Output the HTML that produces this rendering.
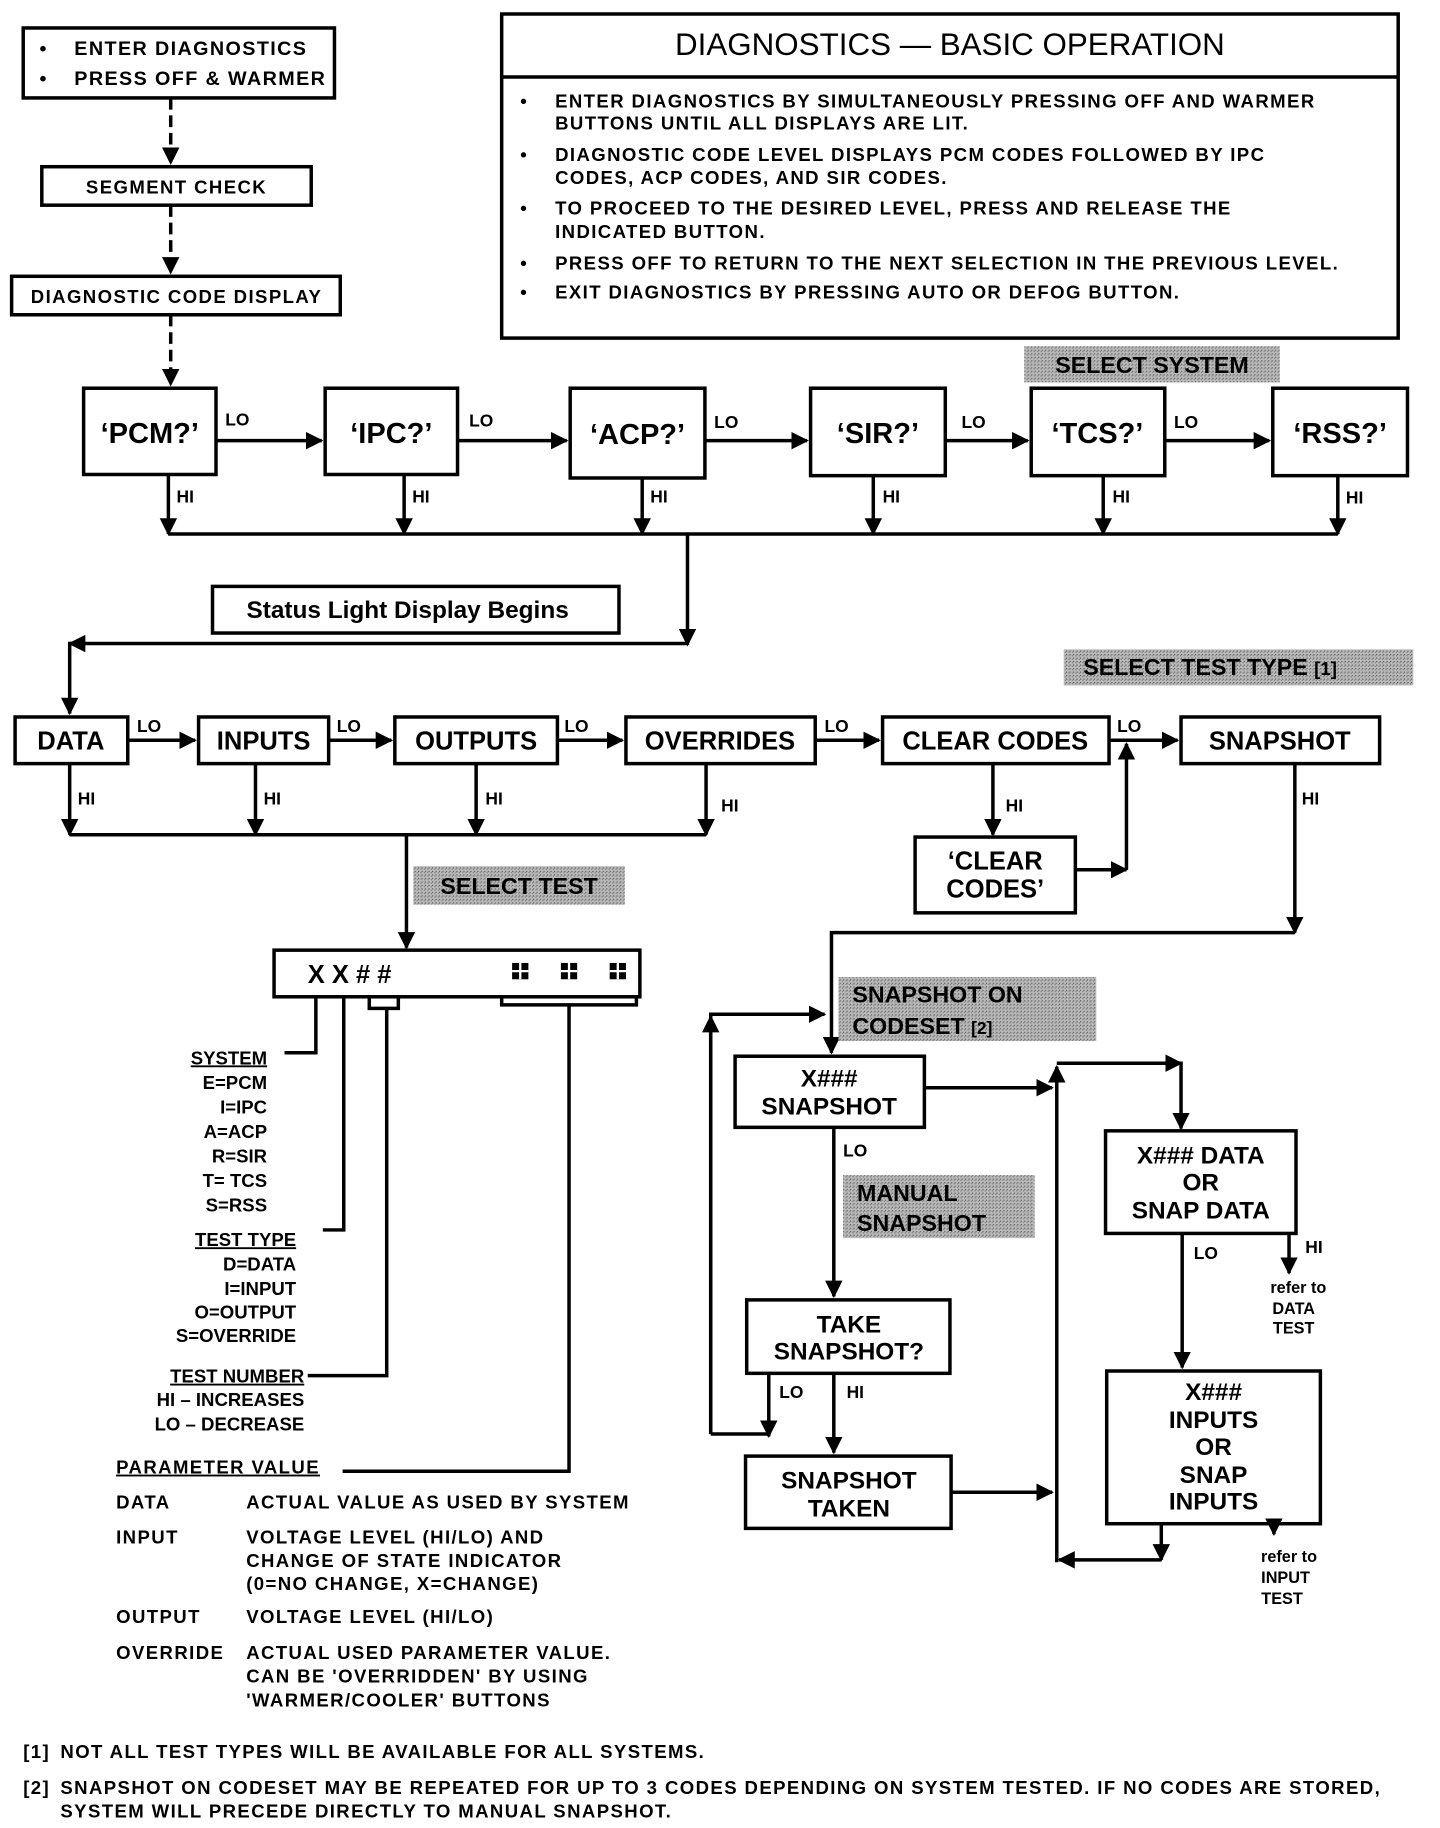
<!DOCTYPE html>
<html><head><meta charset="utf-8"><style>
html,body{margin:0;padding:0;background:#fff;}
svg{display:block;}
text{font-family:"Liberation Sans",Arial,sans-serif;font-weight:bold;fill:#000;}
.ls{letter-spacing:1.2px;}
</style></head><body>
<svg width="1440" height="1828" viewBox="0 0 1240 1568" preserveAspectRatio="none" xmlns="http://www.w3.org/2000/svg">
<defs>
<marker id="a" viewBox="0 0 10 10" refX="9" refY="5" markerWidth="5" markerHeight="5" orient="auto"><path d="M0,0L10,5L0,10z" fill="#000"/></marker>
<pattern id="g" width="3" height="3" patternUnits="userSpaceOnUse"><rect width="3" height="3" fill="#bbb"/><rect width="1" height="1" fill="#555"/><rect x="2" y="1" width="1" height="1" fill="#777"/></pattern>
</defs>
<g fill="none" stroke="#000" stroke-width="3">
<rect x="20" y="24" width="268" height="60"/>
<rect x="36" y="143" width="232" height="33"/>
<rect x="10" y="237" width="283" height="33"/>
<rect x="432" y="12" width="772" height="278"/>
<line x1="432" y1="66" x2="1204" y2="66"/>
<g stroke-dasharray="10,5"><line x1="147" y1="84" x2="147" y2="140" marker-end="url(#a)"/><line x1="147" y1="176" x2="147" y2="234" marker-end="url(#a)"/><line x1="147" y1="270" x2="147" y2="330" marker-end="url(#a)"/></g>
<rect x="72" y="333" width="114" height="74"/><rect x="280" y="333" width="114" height="74"/><rect x="491" y="333" width="116" height="77"/><rect x="698" y="333" width="116" height="75"/><rect x="888" y="333" width="115" height="75"/><rect x="1096" y="333" width="116" height="75"/>
<line x1="186" y1="378" x2="277" y2="378" marker-end="url(#a)"/><line x1="394" y1="378" x2="488" y2="378" marker-end="url(#a)"/><line x1="607" y1="378" x2="695" y2="378" marker-end="url(#a)"/><line x1="814" y1="378" x2="885" y2="378" marker-end="url(#a)"/><line x1="1003" y1="378" x2="1093" y2="378" marker-end="url(#a)"/>
<line x1="145" y1="407" x2="145" y2="458" marker-end="url(#a)"/><line x1="348" y1="407" x2="348" y2="458" marker-end="url(#a)"/><line x1="553" y1="410" x2="553" y2="458" marker-end="url(#a)"/><line x1="752" y1="408" x2="752" y2="458" marker-end="url(#a)"/><line x1="950" y1="408" x2="950" y2="458" marker-end="url(#a)"/><line x1="1152" y1="408" x2="1152" y2="458" marker-end="url(#a)"/>
<line x1="145" y1="458" x2="1152" y2="458"/>
<line x1="592" y1="458" x2="592" y2="553" marker-end="url(#a)"/>
<rect x="183" y="503" width="350" height="40"/>
<polyline points="592,552 60,552 60,612" marker-end="url(#a)"/>
<line x1="70" y1="552" x2="60" y2="552" marker-end="url(#a)"/>
<rect x="13" y="615" width="97" height="40"/><rect x="171" y="615" width="112" height="40"/><rect x="340" y="615" width="140" height="40"/><rect x="539" y="615" width="163" height="40"/><rect x="760" y="615" width="195" height="40"/><rect x="1017" y="615" width="171" height="40"/>
<line x1="110" y1="635" x2="168" y2="635" marker-end="url(#a)"/><line x1="283" y1="635" x2="337" y2="635" marker-end="url(#a)"/><line x1="480" y1="635" x2="536" y2="635" marker-end="url(#a)"/><line x1="702" y1="635" x2="757" y2="635" marker-end="url(#a)"/><line x1="955" y1="635" x2="1014" y2="635" marker-end="url(#a)"/>
<line x1="60" y1="655" x2="60" y2="716" marker-end="url(#a)"/><line x1="220" y1="655" x2="220" y2="716" marker-end="url(#a)"/><line x1="410" y1="655" x2="410" y2="716" marker-end="url(#a)"/><line x1="608" y1="655" x2="608" y2="716" marker-end="url(#a)"/>
<line x1="60" y1="716" x2="608" y2="716"/>
<line x1="350" y1="716" x2="350" y2="813" marker-end="url(#a)"/>
<line x1="855" y1="655" x2="855" y2="716" marker-end="url(#a)"/>
<rect x="788" y="718" width="138" height="65"/>
<line x1="926" y1="746" x2="970" y2="746" marker-end="url(#a)"/>
<line x1="970" y1="746" x2="970" y2="638" marker-end="url(#a)"/>
<line x1="1115" y1="655" x2="1115" y2="800" marker-end="url(#a)"/>
<polyline points="1115,800 716,800 716,903" marker-end="url(#a)"/>
<rect x="236" y="815" width="315" height="40"/>
<polyline points="318,855 318,865 343,865 343,855"/>
<polyline points="432,855 432,862 548,862 548,855"/>
<polyline points="272,855 272,903 245,903"/>
<polyline points="296,855 296,1055 278,1055"/>
<polyline points="333,865 333,1180 265,1180"/>
<polyline points="490,862 490,1262 295,1262"/>
<rect x="633" y="906" width="163" height="61"/>
<line x1="796" y1="933" x2="906" y2="933" marker-end="url(#a)"/>
<polyline points="612,1230 612,870 710,870" marker-end="url(#a)"/>
<line x1="612" y1="1230" x2="612" y2="872" marker-end="url(#a)"/>
<line x1="718" y1="967" x2="718" y2="1112" marker-end="url(#a)"/>
<rect x="643" y="1115" width="175" height="63"/>
<polyline points="612,1230 662,1230 662,1232"/>
<line x1="662" y1="1178" x2="662" y2="1232" marker-end="url(#a)"/>
<line x1="718" y1="1178" x2="718" y2="1246" marker-end="url(#a)"/>
<rect x="642" y="1249" width="177" height="62"/>
<line x1="819" y1="1280" x2="906" y2="1280" marker-end="url(#a)"/>
<line x1="910" y1="1340" x2="910" y2="915" marker-end="url(#a)"/>
<polyline points="910,912 1017,912 1017,968" marker-end="url(#a)"/>
<line x1="1000" y1="912" x2="1017" y2="912" marker-end="url(#a)"/>
<rect x="952" y="970" width="164" height="88"/>
<line x1="1018" y1="1058" x2="1018" y2="1173" marker-end="url(#a)"/>
<line x1="1110" y1="1058" x2="1110" y2="1092" marker-end="url(#a)"/>
<rect x="953" y="1176" width="184" height="131"/>
<line x1="1000" y1="1307" x2="1000" y2="1338" marker-end="url(#a)"/>
<line x1="1000" y1="1338" x2="912" y2="1338" marker-end="url(#a)"/>
<line x1="1097" y1="1307" x2="1097" y2="1316" marker-end="url(#a)"/>
</g>
<rect x="882" y="297" width="220" height="31" fill="url(#g)"/>
<rect x="916" y="557" width="301" height="31" fill="url(#g)"/>
<rect x="356" y="743" width="182" height="33" fill="url(#g)"/>
<rect x="722" y="838" width="222" height="55" fill="url(#g)"/>
<rect x="726" y="1008" width="165" height="54" fill="url(#g)"/>
<g font-size="17" class="ls">
<text x="34" y="47">•</text><text x="64" y="47">ENTER DIAGNOSTICS</text>
<text x="34" y="73">•</text><text x="64" y="73">PRESS OFF &amp; WARMER</text>
<text x="152" y="166" text-anchor="middle" font-size="16">SEGMENT CHECK</text>
<text x="152" y="260" text-anchor="middle" font-size="16">DIAGNOSTIC CODE DISPLAY</text>
</g>
<text x="818" y="47" text-anchor="middle" font-size="27" style="font-weight:normal">DIAGNOSTICS — BASIC OPERATION</text>
<g font-size="16" class="ls">
<text x="448" y="92">•</text><text x="478" y="92">ENTER DIAGNOSTICS BY SIMULTANEOUSLY PRESSING OFF AND WARMER</text>
<text x="478" y="111">BUTTONS UNTIL ALL DISPLAYS ARE LIT.</text>
<text x="448" y="138">•</text><text x="478" y="138">DIAGNOSTIC CODE LEVEL DISPLAYS PCM CODES FOLLOWED BY IPC</text>
<text x="478" y="158">CODES, ACP CODES, AND SIR CODES.</text>
<text x="448" y="184">•</text><text x="478" y="184">TO PROCEED TO THE DESIRED LEVEL, PRESS AND RELEASE THE</text>
<text x="478" y="204">INDICATED BUTTON.</text>
<text x="448" y="231">•</text><text x="478" y="231">PRESS OFF TO RETURN TO THE NEXT SELECTION IN THE PREVIOUS LEVEL.</text>
<text x="448" y="256">•</text><text x="478" y="256">EXIT DIAGNOSTICS BY PRESSING AUTO OR DEFOG BUTTON.</text>
</g>
<text x="992" y="320" text-anchor="middle" font-size="20">SELECT SYSTEM</text>
<g font-size="25" text-anchor="middle">
<text x="129" y="380">‘PCM?’</text><text x="337" y="380">‘IPC?’</text><text x="549" y="381">‘ACP?’</text><text x="756" y="380">‘SIR?’</text><text x="945" y="380">‘TCS?’</text><text x="1154" y="380">‘RSS?’</text>
</g>
<g font-size="15">
<text x="194" y="365">LO</text><text x="404" y="366">LO</text><text x="615" y="367">LO</text><text x="828" y="367">LO</text><text x="1011" y="367">LO</text>
<text x="152" y="431">HI</text><text x="355" y="431">HI</text><text x="560" y="431">HI</text><text x="760" y="431">HI</text><text x="958" y="431">HI</text><text x="1159" y="432">HI</text>
</g>
<text x="351" y="530" text-anchor="middle" font-size="21">Status Light Display Begins</text>
<text x="1042" y="579" text-anchor="middle" font-size="20">SELECT TEST TYPE   <tspan font-size="16">[1]</tspan></text>
<g font-size="22" text-anchor="middle">
<text x="61" y="643">DATA</text><text x="227" y="643">INPUTS</text><text x="410" y="643">OUTPUTS</text><text x="620" y="643">OVERRIDES</text><text x="857" y="643">CLEAR CODES</text><text x="1102" y="643">SNAPSHOT</text>
<text x="857" y="746">‘CLEAR</text><text x="857" y="770">CODES’</text>
</g>
<g font-size="15">
<text x="118" y="628">LO</text><text x="290" y="628">LO</text><text x="486" y="628">LO</text><text x="710" y="628">LO</text><text x="962" y="628">LO</text>
<text x="67" y="690">HI</text><text x="227" y="690">HI</text><text x="418" y="690">HI</text><text x="621" y="696">HI</text><text x="866" y="696">HI</text><text x="1121" y="690">HI</text>
</g>
<text x="447" y="767" text-anchor="middle" font-size="20">SELECT TEST</text>
<text x="265" y="843" font-size="22">X X # #</text>
<g fill="#000"><rect x="441" y="826" width="14" height="14"/><rect x="483" y="826" width="14" height="14"/><rect x="525" y="826" width="14" height="14"/></g>
<g stroke="#fff" stroke-width="2"><line x1="448" y1="826" x2="448" y2="840"/><line x1="441" y1="833" x2="455" y2="833"/><line x1="490" y1="826" x2="490" y2="840"/><line x1="483" y1="833" x2="497" y2="833"/><line x1="532" y1="826" x2="532" y2="840"/><line x1="525" y1="833" x2="539" y2="833"/></g>
<g font-size="16" text-anchor="end">
<text x="230" y="913" text-decoration="underline">SYSTEM</text>
<text x="230" y="934">E=PCM</text><text x="230" y="955">I=IPC</text><text x="230" y="976">A=ACP</text><text x="230" y="997">R=SIR</text><text x="230" y="1018">T= TCS</text><text x="230" y="1039">S=RSS</text>
<text x="255" y="1069" text-decoration="underline">TEST TYPE</text>
<text x="255" y="1090">D=DATA</text><text x="255" y="1111">I=INPUT</text><text x="255" y="1131">O=OUTPUT</text><text x="255" y="1151">S=OVERRIDE</text>
<text x="262" y="1186" text-decoration="underline">TEST NUMBER</text>
<text x="262" y="1206">HI – INCREASES</text><text x="262" y="1227">LO – DECREASE</text>
</g>
<g font-size="16" class="ls">
<text x="100" y="1264" text-decoration="underline">PARAMETER VALUE</text>
<text x="100" y="1294">DATA</text><text x="212" y="1294">ACTUAL VALUE AS USED BY SYSTEM</text>
<text x="100" y="1324">INPUT</text><text x="212" y="1324">VOLTAGE LEVEL (HI/LO) AND</text>
<text x="212" y="1344">CHANGE OF STATE INDICATOR</text><text x="212" y="1364">(0=NO CHANGE, X=CHANGE)</text>
<text x="100" y="1392">OUTPUT</text><text x="212" y="1392">VOLTAGE LEVEL (HI/LO)</text>
<text x="100" y="1423">OVERRIDE</text><text x="212" y="1423">ACTUAL USED PARAMETER VALUE.</text>
<text x="212" y="1443">CAN BE 'OVERRIDDEN' BY USING</text><text x="212" y="1464">'WARMER/COOLER' BUTTONS</text>
<text x="20" y="1508">[1]</text><text x="52" y="1508">NOT ALL TEST TYPES WILL BE AVAILABLE FOR ALL SYSTEMS.</text>
<text x="20" y="1539">[2]</text><text x="52" y="1539">SNAPSHOT ON CODESET MAY BE REPEATED FOR UP TO 3 CODES DEPENDING ON SYSTEM TESTED. IF NO CODES ARE STORED,</text>
<text x="52" y="1559">SYSTEM WILL PRECEDE DIRECTLY TO MANUAL SNAPSHOT.</text>
</g>
<g font-size="20">
<text x="734" y="860">SNAPSHOT ON</text><text x="734" y="887">CODESET  <tspan font-size="15">[2]</tspan></text>
<text x="738" y="1030">MANUAL</text><text x="738" y="1056">SNAPSHOT</text>
</g>
<g font-size="21" text-anchor="middle">
<text x="714" y="932">X###</text><text x="714" y="956">SNAPSHOT</text>
<text x="1034" y="998">X### DATA</text><text x="1034" y="1021">OR</text><text x="1034" y="1045">SNAP DATA</text>
<text x="731" y="1143">TAKE</text><text x="731" y="1166">SNAPSHOT?</text>
<text x="731" y="1277">SNAPSHOT</text><text x="731" y="1301">TAKEN</text>
<text x="1045" y="1201">X###</text><text x="1045" y="1225">INPUTS</text><text x="1045" y="1248">OR</text><text x="1045" y="1272">SNAP</text><text x="1045" y="1295">INPUTS</text>
</g>
<g font-size="15">
<text x="726" y="992">LO</text><text x="1028" y="1080">LO</text><text x="1124" y="1075">HI</text>
<text x="671" y="1199">LO</text><text x="729" y="1199">HI</text>
</g>
<g font-size="14" text-anchor="middle">
<text x="1118" y="1109">refer to</text><text x="1114" y="1127">DATA</text><text x="1114" y="1144">TEST</text>
<text x="1110" y="1340">refer to</text><text x="1107" y="1358">INPUT</text><text x="1104" y="1376">TEST</text>
</g>
</svg>
</body></html>
